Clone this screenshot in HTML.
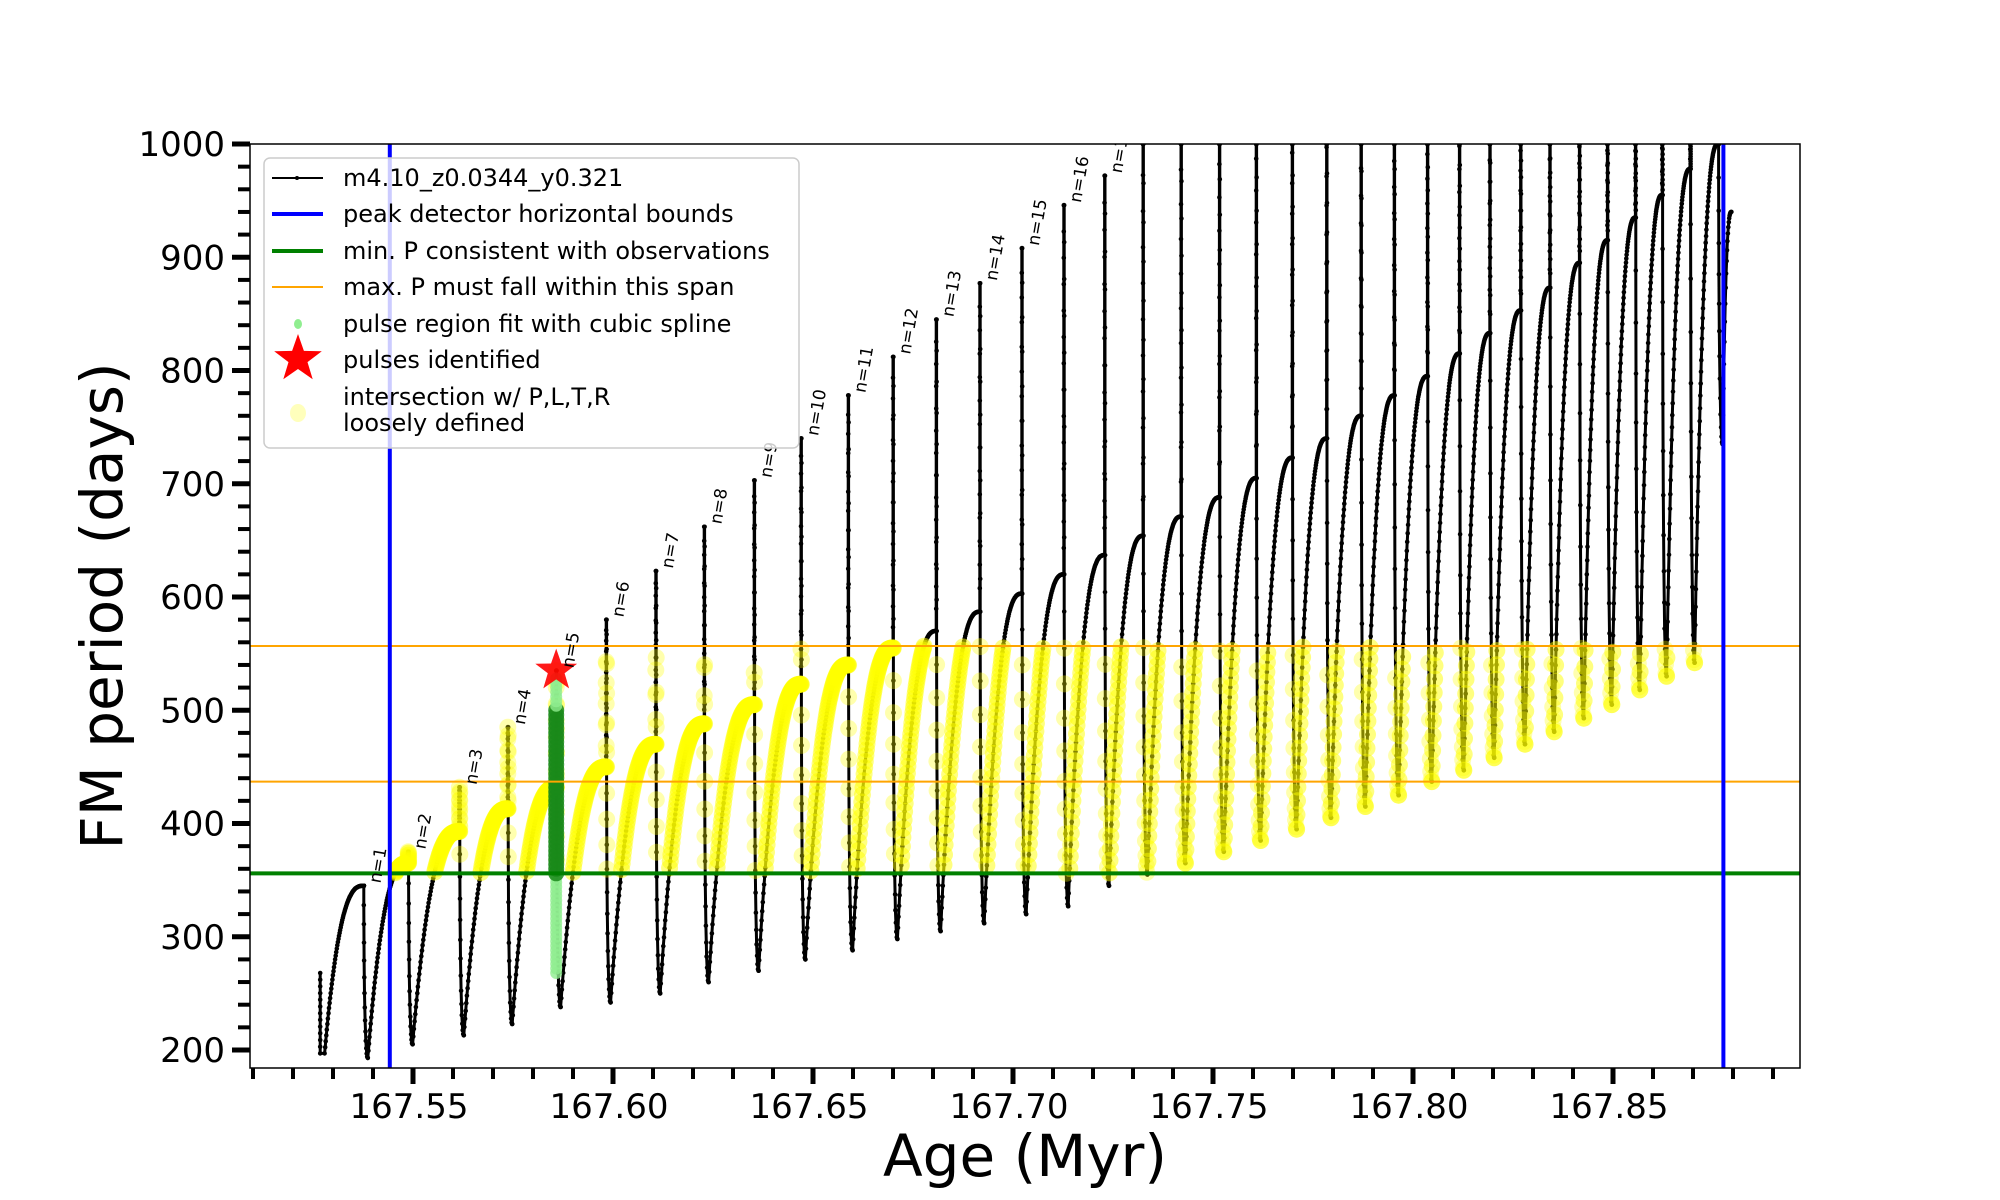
<!DOCTYPE html>
<html><head><meta charset="utf-8"><title>FM period vs Age</title>
<style>
html,body{margin:0;padding:0;background:#fff;}
svg{display:block;font-family:"DejaVu Sans","Liberation Sans",sans-serif;}
</style></head>
<body>
<svg id="chart" xmlns="http://www.w3.org/2000/svg" width="2000" height="1200" viewBox="0 0 2000 1200">
<defs><clipPath id="plotclip"><rect x="250" y="144" width="1550" height="924"/></clipPath></defs>
<rect x="0" y="0" width="2000" height="1200" fill="#fff"/>
<g id="plot" clip-path="url(#plotclip)"></g>
<rect x="250" y="144" width="1550" height="924" fill="none" stroke="#000" stroke-width="1.5"/>
<g id="axes"></g>
<text x="1025" y="1176" font-size="58" text-anchor="middle">Age (Myr)</text>
<text transform="translate(122,606) rotate(-90)" font-size="58" text-anchor="middle">FM period (days)</text>
<g id="legend">
<rect x="264" y="158" width="535" height="290" rx="6" fill="#fff" fill-opacity="0.8" stroke="#ccc" stroke-width="1.5"/>
<g><line x1="272" y1="178" x2="323" y2="178" stroke="#000" stroke-width="2"/><circle cx="297" cy="178" r="2" fill="#000"/><text x="343" y="186" font-size="24">m4.10_z0.0344_y0.321</text></g>
<g><line x1="272" y1="214" x2="323" y2="214" stroke="#0000ff" stroke-width="4"/><text x="343" y="222" font-size="24">peak detector horizontal bounds</text></g>
<g><line x1="272" y1="251" x2="323" y2="251" stroke="#008000" stroke-width="4"/><text x="343" y="259" font-size="24">min. P consistent with observations</text></g>
<g><line x1="272" y1="287" x2="323" y2="287" stroke="#ffa500" stroke-width="2"/><text x="343" y="295" font-size="24">max. P must fall within this span</text></g>
<g><ellipse cx="298" cy="324" rx="4" ry="5" fill="#90ee90"/><text x="343" y="332" font-size="24">pulse region fit with cubic spline</text></g>
<g><polygon id="legstar" fill="#ff0000"/><text x="343" y="368" font-size="24">pulses identified</text></g>
<g><ellipse cx="298" cy="413" rx="8" ry="9" fill="#ffffa0" fill-opacity="0.7"/><text x="343" y="405" font-size="24">intersection w/ P,L,T,R</text><text x="343" y="431" font-size="24">loosely defined</text></g>
</g>
</svg>
<script>
// ---- data ----
const pulseAges = [167.5376,167.5488,167.5616,167.5737,167.5858,167.5983,167.6107,167.6228,167.6353,167.6470,167.6588,167.6700,167.6808,167.6917,167.7022,167.7127,167.7229,167.7325,167.7420,167.7516,167.7608,167.7698,167.7784,167.7870,167.7953,167.8036,167.8116,167.8192,167.8269,167.8342,167.8416,167.8486,167.8556,167.8623,167.8693,167.8763];
const humpMax = [345,365,393,413,432,450,470,488,505,523,540,555,570,587,603,620,637,654,671,688,705,723,740,760,778,795,815,833,853,873,895,915,935,955,978,1000];
const spikeTop = [345,375,432,485,535,580,623,662,703,740,778,812,845,877,908,946,972,1100,1100,1100,1100,1100,1100,1100,1100,1100,1100,1100,1100,1100,1100,1100,1100,1100,1100,1100];
const postMin = [193,205,213,223,238,242,250,260,270,280,288,298,305,312,320,327,345,355,365,375,385,395,405,415,425,437,447,458,470,481,493,505,518,530,542,735];
const startAge = 167.5268, startTop = 268, startMin = 197;
const endAge = 167.8796, endVal = 940;
const peakBounds = [167.5442, 167.8776];
const minP = 356;
const maxPSpan = [437, 556.7];
const starAge = 167.5858, starVal = 535;
const xTickLabels = ["167.55","167.60","167.65","167.70","167.75","167.80","167.85"];
const yTickLabels = ["200","300","400","500","600","700","800","900","1000"];

// ---- scales ----
const X = a => 1613 + (a - 167.85) * 4000;
const Y = v => 144 + (1000 - v) * 1.1325;
const NS = "http://www.w3.org/2000/svg";
function mk(tag, attrs, parent){const e=document.createElementNS(NS,tag);for(const k in attrs)e.setAttribute(k,attrs[k]);parent.appendChild(e);return e;}
const plot = document.getElementById('plot');
const axes = document.getElementById('axes');

// ---- build series points ----
const pts = []; // [age, value, kind] kind: 0 hump, 1 spike, 2 drop
function addSpike(a, from, to, n, kind){for(let i=0;i<=n;i++)pts.push([a, from+(to-from)*i/n, kind]);}
function addDrop(a, from, to, n){for(let i=0;i<=n;i++){const s=i/n;pts.push([a+0.0010*s*s, from+(to-from)*Math.sin(s*Math.PI/2), 2]);}}
function addHump(a0, a1, m, M, n){for(let i=0;i<=n;i++){const s=i/n;pts.push([a0+(a1-a0)*s, m+(M-m)*(1-Math.pow(1-s,2.6)), 0]);}}
addSpike(startAge, startTop, startMin, 12, 1);
let prevA = startAge, prevMin = startMin;
for (let i=0;i<pulseAges.length;i++){
  addHump(prevA+0.0011, pulseAges[i], prevMin, humpMax[i], 70);
  addSpike(pulseAges[i], humpMax[i], spikeTop[i], 14, 1);
  addSpike(pulseAges[i]+0.0001, Math.min(spikeTop[i],1000), humpMax[i], 10, 1);
  addDrop(pulseAges[i]+0.0001, humpMax[i], postMin[i], 14);
  prevA = pulseAges[i]; prevMin = postMin[i];
}
addHump(prevA+0.0011, endAge, prevMin, endVal, 20);

// black model line
const line = mk('polyline',{points:pts.map(p=>X(p[0]).toFixed(1)+','+Y(p[1]).toFixed(1)).join(' '),fill:'none',stroke:'#000','stroke-width':3,'stroke-linejoin':'round'},plot);


const dots = mk('g',{},plot);


pts.forEach((p,i)=>{ mk('circle',{cx:X(p[0]).toFixed(1),cy:Y(Math.min(p[1],1000)).toFixed(1),r:2.3,fill:'#000'},dots); });

// yellow intersection markers (drawn over the line)
const yel = mk('g',{},plot);


pts.forEach((p,i)=>{
  if(p[1]>=minP && p[1]<=maxPSpan[1] && p[0]>=peakBounds[0] && p[0]<=peakBounds[1]){
    if(p[2]===1 && i%2) return;
    mk('circle',{cx:X(p[0]).toFixed(1),cy:Y(p[1]).toFixed(1),r:8.5,fill:'#ffff00','fill-opacity':p[2]===0?0.5:0.32},yel);
  }
});

// green spline region at identified pulse
const gr = mk('g',{},plot);


for(let v=268; v<=530; v+=4){
  const dark = v>=minP && v<=500;
  mk('circle',{cx:X(starAge).toFixed(1),cy:Y(v).toFixed(1),r:dark?8:6,fill:dark?'#1a8a1a':'#90ee90','fill-opacity':dark?0.85:0.8},gr);
}

// horizontal / vertical reference lines
const gl = mk('line',{x1:250,x2:1800,y1:Y(minP),y2:Y(minP),stroke:'#008000','stroke-width':4},plot);


maxPSpan.forEach((v,i)=>{
  const l = mk('line',{x1:250,x2:1800,y1:Y(v),y2:Y(v),stroke:'#ffa500','stroke-width':2},plot);
  
  
});
peakBounds.forEach((a,i)=>{
  const l = mk('line',{x1:X(a),x2:X(a),y1:144,y2:1068,stroke:'#0000ff','stroke-width':4},plot);
  
  
});

// star
function starPts(cx,cy,R){const r=R*0.4;let s=[];for(let k=0;k<10;k++){const ang=-Math.PI/2+k*Math.PI/5;const rr=k%2?r:R;s.push((cx+rr*Math.cos(ang)).toFixed(1)+','+(cy+rr*Math.sin(ang)).toFixed(1));}return s.join(' ');}
const star = mk('polygon',{points:starPts(X(starAge),Y(starVal),22),fill:'#ff0000','fill-opacity':0.9},plot);


document.getElementById('legstar').setAttribute('points', starPts(298,359,25));

// n= labels
for(let i=0;i<17;i++){
  const v = Math.min(spikeTop[i],1000);
  const t = mk('text',{transform:`translate(${(X(pulseAges[i])+17).toFixed(1)},${(Y(v)-2).toFixed(1)}) rotate(-80)`,'font-size':17},plot);
  t.textContent = 'n=' + (i+1);
  
  
}

// axes ticks
for(let v=200; v<=1000; v+=20){
  const major = v%100===0;
  mk('line',{x1:major?232:238,x2:250,y1:Y(v),y2:Y(v),stroke:'#000','stroke-width':major?5:4},axes);
}
yTickLabels.forEach(s=>{
  const t = mk('text',{x:225,y:(Y(+s)+12).toFixed(1),'font-size':34,'text-anchor':'end'},axes);
  t.textContent = s;
  
  
});
for(let k=51;k<=89;k++){
  const a = 167 + k/100;
  const major = k%5===0;
  mk('line',{x1:X(a),x2:X(a),y1:1068,y2:major?1084:1079,stroke:'#000','stroke-width':major?5:4},axes);
}
xTickLabels.forEach(s=>{
  const t = mk('text',{x:(X(+s)-4).toFixed(1),y:1118,'font-size':34,'text-anchor':'middle'},axes);
  t.textContent = s;
  
  
});
</script>
</body></html>
